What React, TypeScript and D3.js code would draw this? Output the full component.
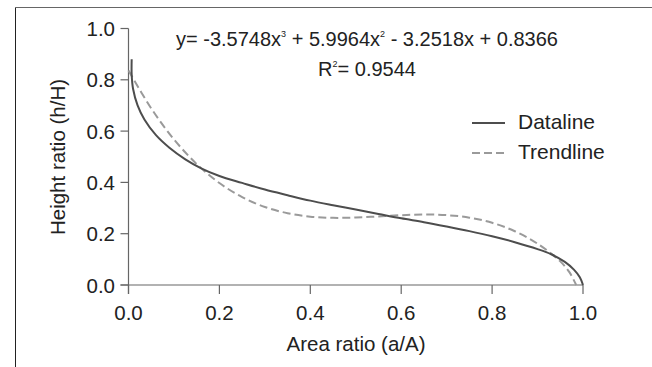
import React from 'react';
import * as d3 from 'd3';

const xTicks = [0, 0.2, 0.4, 0.6, 0.8, 1.0];
const yTicks = [0, 0.2, 0.4, 0.6, 0.8, 1.0];

// Dataline
const dataX = [0.007, 0.007, 0.01, 0.02, 0.035, 0.06, 0.09, 0.125, 0.16, 0.2, 0.25, 0.3, 0.35, 0.4, 0.45, 0.5, 0.55, 0.6, 0.65, 0.7, 0.75, 0.8, 0.85, 0.9, 0.93, 0.96, 0.98, 0.993, 1.0];
const dataY = [0.88, 0.82, 0.765, 0.7, 0.645, 0.585, 0.535, 0.49, 0.455, 0.425, 0.398, 0.372, 0.35, 0.329, 0.311, 0.294, 0.277, 0.26, 0.245, 0.228, 0.21, 0.19, 0.167, 0.14, 0.12, 0.09, 0.06, 0.03, 0.0];

// Trendline (consistent with printed equation)
const trendX = [0, 0.05, 0.1, 0.15, 0.2, 0.25, 0.3, 0.35, 0.4, 0.45, 0.5, 0.55, 0.6, 0.65, 0.7, 0.75, 0.8, 0.85, 0.9, 0.95, 0.97, 0.985];
const trendY = [0.8366, 0.6886, 0.5678, 0.4717, 0.3975, 0.3426, 0.3042, 0.2798, 0.2665, 0.2618, 0.263, 0.2673, 0.2721, 0.2747, 0.2724, 0.2626, 0.2426, 0.2096, 0.1611, 0.092, 0.05, 0.0];

const seriesNames = ['Dataline', 'Trendline'];
const xTitle = 'Area ratio (a/A)';
const yTitle = 'Height ratio (h/H)';

export default function App() {
  const W = 652, H = 367;
  const x = d3.scaleLinear().domain([0, 1]).range([128.5, 583]);
  const y = d3.scaleLinear().domain([0, 1]).range([285, 28.5]);
  const font = '"Liberation Sans", Arial, sans-serif';
  const txt = '#222';
  const axisCol = '#666';

  const line = d3.line<[number, number]>()
    .x(d => x(d[0]))
    .y(d => y(d[1]))
    .curve(d3.curveCatmullRom.alpha(0.5));

  const dataPts = dataX.map((v, i) => [v, dataY[i]] as [number, number]);
  const trendPts = trendX.map((v, i) => [v, trendY[i]] as [number, number]);

  const x0 = x(0), y0 = y(0);

  return (
    <svg width={W} height={H} style={{ position: 'absolute', left: 0, top: 0, background: '#fff' }} fontFamily={font}>
      <rect x={0} y={0} width={W} height={H} fill="#fff" />
      {/* frame */}
      <line x1={15.5} y1={7.5} x2={W} y2={7.5} stroke="#666" strokeWidth={1} />
      <line x1={15.5} y1={7.5} x2={15.5} y2={H} stroke="#222" strokeWidth={1} />

      {/* axes */}
      <line x1={x0} y1={y(1)} x2={x0} y2={y0 + 9} stroke={axisCol} strokeWidth={1.2} />
      <line x1={x0 - 8} y1={y0} x2={x(1)} y2={y0} stroke={axisCol} strokeWidth={1.2} />
      {yTicks.map(t => (
        <g key={'y' + t}>
          <line x1={x0 - 8} x2={x0} y1={y(t)} y2={y(t)} stroke={axisCol} strokeWidth={1.2} />
          <text x={115} y={y(t) + 7.5} textAnchor="end" fontSize={20.5} fill={txt}>{t.toFixed(1)}</text>
        </g>
      ))}
      {xTicks.map(t => (
        <g key={'x' + t}>
          <line x1={x(t)} x2={x(t)} y1={y0} y2={y0 + 9} stroke={axisCol} strokeWidth={1.2} />
          <text x={x(t)} y={320} textAnchor="middle" fontSize={20.5} fill={txt}>{t.toFixed(1)}</text>
        </g>
      ))}

      {/* titles */}
      <text x={356} y={351} textAnchor="middle" fontSize={20.5} fill={txt}>{xTitle}</text>
      <text transform={`translate(65,157) rotate(-90)`} textAnchor="middle" fontSize={20.5} fill={txt}>{yTitle}</text>

      {/* series */}
      <path d={line(trendPts) || ''} fill="none" stroke="#9a9a9a" strokeWidth={2} strokeDasharray="8,4" />
      <path d={line(dataPts) || ''} fill="none" stroke="#4d4d4d" strokeWidth={2} />

      {/* equation */}
      <text x={367} y={46} textAnchor="middle" fontSize={20} fill={txt}>
        <tspan>y= -3.5748x</tspan>
        <tspan fontSize={9} dy={-9}>3</tspan>
        <tspan dy={9}> + 5.9964x</tspan>
        <tspan fontSize={9} dy={-9}>2</tspan>
        <tspan dy={9}> - 3.2518x + 0.8366</tspan>
      </text>
      <text x={367} y={76} textAnchor="middle" fontSize={20} fill={txt}>
        <tspan>R</tspan>
        <tspan fontSize={9} dy={-9}>2</tspan>
        <tspan dy={9}>= 0.9544</tspan>
      </text>

      {/* legend */}
      <line x1={472} x2={505} y1={123} y2={123} stroke="#4d4d4d" strokeWidth={2} />
      <text x={518} y={129} fontSize={21} fill={txt}>{seriesNames[0]}</text>
      <line x1={472} x2={505} y1={153} y2={153} stroke="#9a9a9a" strokeWidth={2} strokeDasharray="8,4" />
      <text x={518} y={159} fontSize={21} fill={txt}>{seriesNames[1]}</text>
    </svg>
  );
}
